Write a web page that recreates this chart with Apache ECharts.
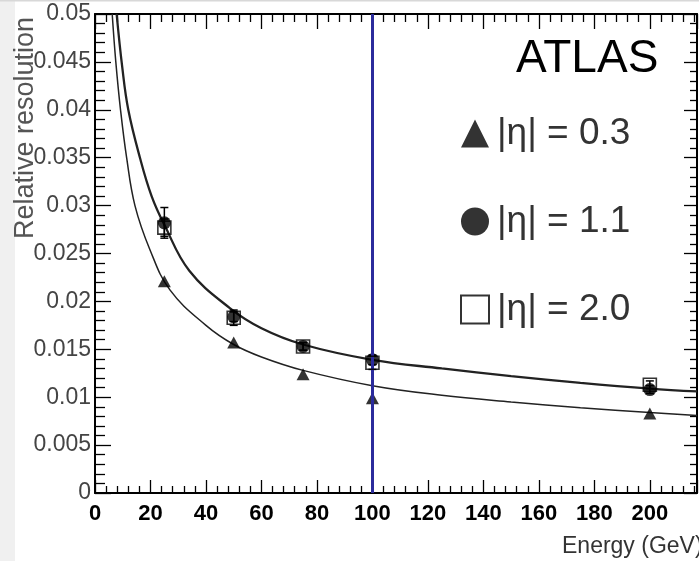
<!DOCTYPE html>
<html><head><meta charset="utf-8">
<script src="https://cdn.jsdelivr.net/npm/echarts@6/dist/echarts.min.js"></script>
<style>html,body{margin:0;padding:0;background:#fff}#c{width:699px;height:561px}</style>
</head><body><div id="c"></div>
<script>
// ---- data ----
const energies = [25, 50, 75, 100, 200];
const eta03 = [0.0221, 0.0157, 0.0124, 0.0099, 0.0083];
const eta11 = [0.0282, 0.0184, 0.0153, 0.0139, 0.0108];
const eta20 = [0.0277, 0.0183, 0.0153, 0.0136, 0.0113];
const eta11Err = [0.0016, 0.0005, 0.0004, 0.0005, 0.0004];
const eta20Err = [0.0009, 0.0008, 0.0004, 0.0007, 0.0004];
// fit curves (energy, resolution)
const fitLowE = [6.2, 7.5, 9.2, 11.4, 14.4, 19.8, 27, 40, 50, 60, 75, 100, 125, 150, 175, 200, 217];
const fitLowV = [0.050, 0.045, 0.040, 0.035, 0.030, 0.0254, 0.0212, 0.0175, 0.0155, 0.0142, 0.0128, 0.0112, 0.0102, 0.0095, 0.0089, 0.0084, 0.0081];
const fitHighE = [7.8, 9.8, 12.0, 16.2, 20.4, 25, 34, 48.6, 60, 75, 100, 125, 150, 175, 200, 217];
const fitHighV = [0.050, 0.0445, 0.040, 0.035, 0.0310, 0.0280, 0.0232, 0.0193, 0.0172, 0.0155, 0.0139, 0.0130, 0.0122, 0.0115, 0.0109, 0.0106];
const refEnergy = 100;
const xTicks = [0, 20, 40, 60, 80, 100, 120, 140, 160, 180, 200];
const yTicks = [0, 0.005, 0.01, 0.015, 0.02, 0.025, 0.03, 0.035, 0.04, 0.045, 0.05];
const seriesNames = ['|η| = 0.3', '|η| = 1.1', '|η| = 2.0'];
const xTitle = 'Energy (GeV)';
const yTitle = 'Relative resolution';
const expLabel = 'ATLAS';

const zip = (a, b) => a.map((v, i) => [v, b[i]]);
const errData = (vals, errs) => energies.map((e, i) => [e, vals[i] - errs[i], vals[i] + errs[i]]);

const sans = "'Liberation Sans',Arial,sans-serif";

function errRender(params, api) {
  const x = api.value(0);
  const lo = api.coord([x, api.value(1)]);
  const hi = api.coord([x, api.value(2)]);
  const w = 4;
  const st = { stroke: '#000', lineWidth: 1.5 };
  return { type: 'group', children: [
    { type: 'line', shape: { x1: lo[0], y1: lo[1], x2: hi[0], y2: hi[1] }, style: st },
    { type: 'line', shape: { x1: lo[0] - w, y1: lo[1], x2: lo[0] + w, y2: lo[1] }, style: st },
    { type: 'line', shape: { x1: hi[0] - w, y1: hi[1], x2: hi[0] + w, y2: hi[1] }, style: st }
  ]};
}

const tickStyle = { color: '#000', width: 1.3 };
const xCommon = {
  type: 'value', min: 0, max: 217, interval: 20,
  axisLine: { show: true, onZero: false, lineStyle: { color: '#000', width: 2 } },
  splitLine: { show: false },
  minorTick: { show: true, splitNumber: 5, length: 7, lineStyle: tickStyle },
  minorSplitLine: { show: false }
};
const yCommon = {
  type: 'value', min: 0, max: 0.05, interval: 0.005,
  axisLine: { show: true, onZero: false, lineStyle: { color: '#000', width: 2 } },
  splitLine: { show: false },
  minorTick: { show: true, splitNumber: 5, length: 10, lineStyle: tickStyle },
  minorSplitLine: { show: false }
};

const chart = echarts.init(document.getElementById('c'), null, { renderer: 'canvas' });
chart.setOption({
  animation: false,
  backgroundColor: '#fff',
  grid: { left: 95, top: 14, right: 2, bottom: 68, containLabel: false },
  xAxis: [
    Object.assign({}, xCommon, {
      position: 'bottom',
      axisTick: { show: true, inside: true, length: 13, lineStyle: tickStyle },
      axisLabel: { show: true, margin: 10, color: '#000', fontWeight: 'bold', fontSize: 22, fontFamily: sans,
        formatter: v => (xTicks.indexOf(v) >= 0 ? String(v) : ''), showMaxLabel: false }
    }),
    Object.assign({}, xCommon, {
      position: 'top',
      axisTick: { show: true, inside: true, length: 15, lineStyle: tickStyle },
      minorTick: { show: true, splitNumber: 5, length: 8, lineStyle: tickStyle },
      axisLabel: { show: false }
    })
  ],
  yAxis: [
    Object.assign({}, yCommon, {
      position: 'left',
      axisTick: { show: true, inside: true, length: 16, lineStyle: tickStyle },
      axisLabel: { show: true, margin: 4, color: '#444', fontSize: 23, fontFamily: sans,
        formatter: v => { const t = yTicks.find(k => Math.abs(k - v) < 1e-9); return t === undefined ? '' : String(t); } }
    }),
    Object.assign({}, yCommon, {
      position: 'right',
      axisTick: { show: true, inside: true, length: 13, lineStyle: tickStyle },
      minorTick: { show: true, splitNumber: 5, length: 7, lineStyle: tickStyle },
      axisLabel: { show: false }
    })
  ],
  legend: {
    data: seriesNames,
    orient: 'vertical', left: 455, top: 110,
    itemWidth: 28, itemHeight: 28, itemGap: 51,
    selectedMode: false,
    textStyle: { fontSize: 37, lineHeight: 36, color: '#333', fontFamily: sans, padding: [0, 0, 0, 3] }
  },
  graphic: [
    { type: 'rect', left: 0, top: 0, shape: { width: 15, height: 561 }, style: { fill: '#f0f0f0' }, z: 100 },
    { type: 'rect', left: 0, top: 0, shape: { width: 699, height: 1.5 }, style: { fill: '#d8d8d8' }, z: 100 },
    { type: 'text', x: 516, y: 59, style: { text: expLabel, fontSize: 46, fontFamily: sans, fill: '#000', textVerticalAlign: 'middle' }, z: 100 },
    { type: 'text', x: 26, y: 128, rotation: Math.PI / 2, style: { text: yTitle, fontSize: 27, fontFamily: sans, fill: '#555', textAlign: 'center', textVerticalAlign: 'middle' }, z: 100 },
    { type: 'text', x: 562, y: 547, style: { text: xTitle, fontSize: 23, fontFamily: sans, fill: '#333', textVerticalAlign: 'middle' }, z: 100 }
  ],
  series: [
    { name: 'fitHigh', type: 'line', data: zip(fitHighE, fitHighV), showSymbol: false, smooth: 0.4,
      lineStyle: { color: '#222', width: 2.3 }, clip: true, silent: true, z: 2 },
    { name: 'fitLow', type: 'line', data: zip(fitLowE, fitLowV), showSymbol: false, smooth: 0.4,
      lineStyle: { color: '#222', width: 1.5 }, clip: true, silent: true, z: 2,
      markLine: { silent: true, symbol: ['none', 'none'], label: { show: false },
        lineStyle: { color: '#2b2b9c', width: 3, type: 'solid' }, data: [{ xAxis: refEnergy }] } },
    { name: 'err11', type: 'custom', renderItem: errRender, data: errData(eta11, eta11Err), z: 3, silent: true },
    { name: 'err20', type: 'custom', renderItem: errRender, data: errData(eta20, eta20Err), z: 3, silent: true },
    { name: seriesNames[0], type: 'scatter', data: zip(energies, eta03), symbol: 'triangle', symbolSize: [13, 12],
      itemStyle: { color: '#000' }, z: 4 },
    { name: seriesNames[1], type: 'scatter', data: zip(energies, eta11), symbol: 'circle', symbolSize: 13,
      itemStyle: { color: '#000' }, z: 4 },
    { name: seriesNames[2], type: 'scatter', data: zip(energies, eta20), symbol: 'rect', symbolSize: 13,
      itemStyle: { color: 'rgba(255,255,255,0)', borderColor: '#000', borderWidth: 1.6 }, z: 5 }
  ]
});
</script></body></html>
